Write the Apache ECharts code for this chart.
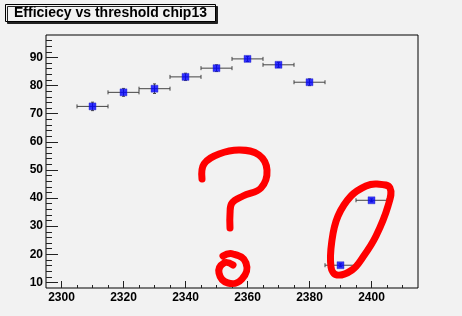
<!DOCTYPE html>
<html>
<head>
<meta charset="utf-8">
<script src="https://cdn.jsdelivr.net/npm/echarts@6/dist/echarts.min.js"></script>
<style>
  html, body { margin: 0; padding: 0; background: #f2f2f2; }
  #chart { width: 462px; height: 316px; }
</style>
</head>
<body>
<div id="chart"></div>
<script>
// threshold scan, chip13
const thresholds = [2310, 2320, 2330, 2340, 2350, 2360, 2370, 2380, 2390, 2400];
const efficiency = [72.6, 77.6, 78.9, 83.1, 86.2, 89.5, 87.4, 81.2, 16.1, 39.2];
const xErr = [5, 5, 5, 5, 5, 5, 5, 5, 5, 5];
const yErr = [1.5, 1.4, 1.7, 1.3, 1.2, 0.9, 0.9, 1.2, 0.5, 0.5];

const xTicks = [2300, 2320, 2340, 2360, 2380, 2400];
const yTicks = [10, 20, 30, 40, 50, 60, 70, 80, 90];

const xMinor = [];
for (let v = 2300; v <= 2410; v += 5) xMinor.push(v);
const yMinor = [];
for (let v = 10; v <= 96; v += 2) yMinor.push(v);

const X_MIN = 2295, X_MAX = 2415, Y_MIN = 8, Y_MAX = 98;

const chart = echarts.init(document.getElementById('chart'));

const labelFont = { fontFamily: 'Liberation Sans, Arial, sans-serif', fontWeight: 'bold', fontSize: 12, color: '#000' };
const tickStyle = { color: '#222', width: 1 };

// hand-drawn red annotations on top of the plot
const red = { stroke: '#ff0000', lineWidth: 7, lineCap: 'round', lineJoin: 'round', fill: null };

chart.setOption({
    backgroundColor: '#f2f2f2',
    animation: false,
    title: {
        text: 'Efficiecy vs threshold chip13',
        left: 5,
        top: 4,
        padding: [2, 9, 1, 9],
        backgroundColor: '#f2f2f2',
        borderColor: '#000',
        borderWidth: 1,
        shadowColor: '#222',
        shadowOffsetX: 2,
        shadowOffsetY: 2,
        textStyle: { fontFamily: 'Liberation Sans, Arial, sans-serif', fontWeight: 'bold', fontSize: 14, color: '#000', lineHeight: 15 }
    },
    grid: {
        left: 46, right: 44, top: 35, bottom: 28,
        show: true, borderColor: '#000', borderWidth: 1, backgroundColor: '#f2f2f2'
    },
    xAxis: [
        {
            type: 'value', min: X_MIN, max: X_MAX, position: 'bottom',
            splitLine: { show: false },
            axisLine: { show: false },
            axisTick: { inside: true, length: 7, customValues: xTicks, lineStyle: tickStyle },
            axisLabel: Object.assign({ customValues: xTicks, margin: 4, formatter: v => String(v) }, labelFont)
        },
        {
            type: 'value', min: X_MIN, max: X_MAX, position: 'bottom',
            splitLine: { show: false },
            axisLine: { show: false },
            axisTick: { inside: true, length: 3, customValues: xMinor, lineStyle: tickStyle },
            axisLabel: { show: false }
        }
    ],
    yAxis: [
        {
            type: 'value', min: Y_MIN, max: Y_MAX, position: 'left',
            splitLine: { show: false },
            axisLine: { show: false },
            axisTick: { inside: true, length: 12, customValues: yTicks, lineStyle: tickStyle },
            axisLabel: Object.assign({ customValues: yTicks, margin: 3 }, labelFont)
        },
        {
            type: 'value', min: Y_MIN, max: Y_MAX, position: 'left', offset: 0,
            splitLine: { show: false },
            axisLine: { show: false },
            axisTick: { inside: true, length: 6, customValues: yMinor, lineStyle: tickStyle },
            axisLabel: { show: false }
        }
    ],
    series: [
        {
            type: 'custom',
            xAxisIndex: 0, yAxisIndex: 0,
            data: thresholds.map((t, i) => [t, efficiency[i], xErr[i], yErr[i]]),
            renderItem(params, api) {
                const x = api.value(0), y = api.value(1), ex = api.value(2), ey = api.value(3);
                const l = api.coord([x - ex, y]), r = api.coord([x + ex, y]);
                const t = api.coord([x, y + ey]), b = api.coord([x, y - ey]);
                const style = { stroke: '#444', lineWidth: 1 };
                return {
                    type: 'group',
                    children: [
                        { type: 'line', shape: { x1: l[0], y1: l[1], x2: r[0], y2: r[1] }, style },
                        { type: 'line', shape: { x1: l[0], y1: l[1] - 2, x2: l[0], y2: l[1] + 2 }, style },
                        { type: 'line', shape: { x1: r[0], y1: r[1] - 2, x2: r[0], y2: r[1] + 2 }, style },
                        { type: 'line', shape: { x1: t[0], y1: t[1], x2: b[0], y2: b[1] }, style },
                        { type: 'line', shape: { x1: t[0] - 1.5, y1: t[1], x2: t[0] + 1.5, y2: t[1] }, style },
                        { type: 'line', shape: { x1: b[0] - 1.5, y1: b[1], x2: b[0] + 1.5, y2: b[1] }, style }
                    ]
                };
            }
        },
        {
            type: 'scatter',
            xAxisIndex: 0, yAxisIndex: 0,
            symbol: 'rect',
            symbolSize: 7,
            itemStyle: { color: '#0000ff', borderColor: '#3030c0', borderWidth: 0.5 },
            data: thresholds.map((t, i) => [t, efficiency[i]])
        }
    ],
    graphic: [
        {
            type: 'polyline', z: 100,
            shape: {
                smooth: 0.4,
                points: [[202, 179], [204, 164], [219, 154], [240, 150], [259, 155], [267, 170],
                         [261, 188], [243, 196], [232, 203], [230, 214], [230, 228]]
            },
            style: red
        },
        {
            type: 'polyline', z: 100,
            shape: {
                smooth: 0.5,
                points: [[223, 256], [233, 254], [246, 263], [242, 279], [228, 283], [219, 273],
                         [224, 263], [233, 265]]
            },
            style: red
        },
        {
            type: 'polygon', z: 100,
            shape: {
                smooth: 0.4,
                points: [[377, 184], [390, 188], [388, 206], [376, 236], [363, 257], [352, 270],
                         [337, 275], [331, 267], [332, 240], [338, 216], [351, 196], [366, 186]]
            },
            style: { stroke: '#ff0000', lineWidth: 7, fill: null, lineJoin: 'round' }
        }
    ]
});
</script>
</body>
</html>
